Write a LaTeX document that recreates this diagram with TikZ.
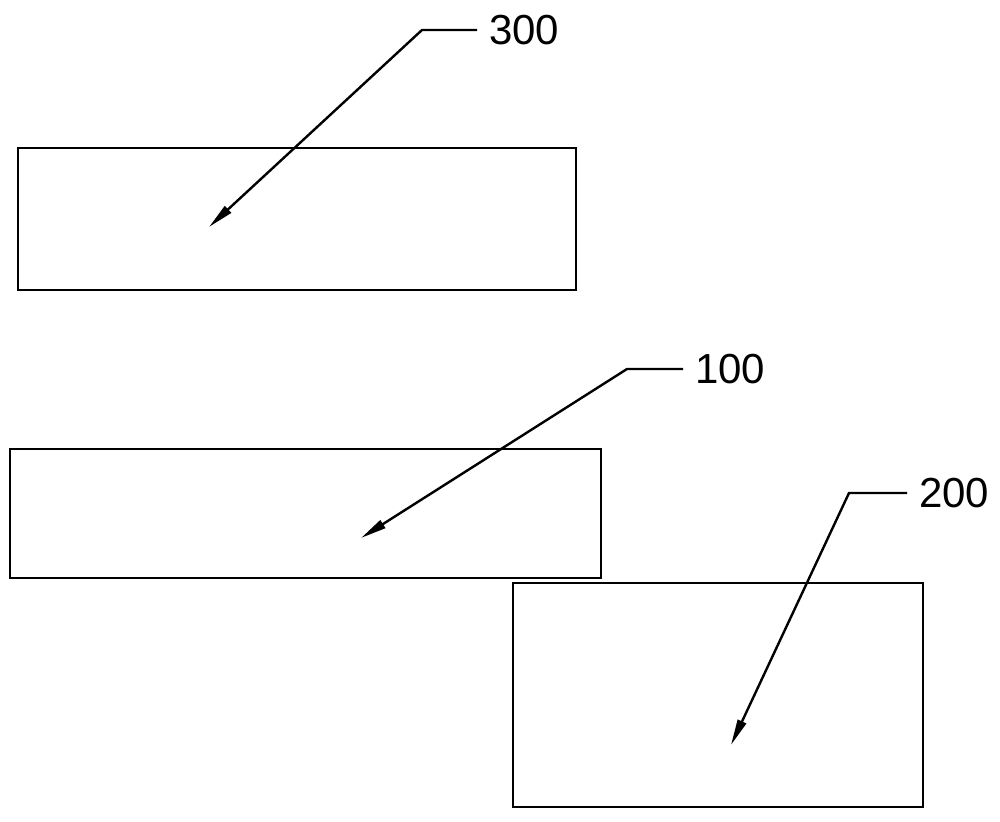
\documentclass[tikz,border=0pt]{standalone}
\usepackage{fontspec}
\setmainfont{Liberation Sans}
\usetikzlibrary{arrows.meta}
\begin{document}
\begin{tikzpicture}[x=1pt,y=-1pt,
  part/.style={draw=black, line width=2pt, inner sep=0pt, outer sep=0pt},
  num/.style={anchor=west, inner ysep=0pt, inner xsep=12pt, font=\fontsize{42}{42}\selectfont},
  leader/.style={draw=black, line width=2.4pt, line join=miter, -{Triangle[length=26pt,width=9pt]}}]
\useasboundingbox (0,0) rectangle (1000,821);
\node[part, minimum width=558pt, minimum height=142pt] (b300) at (297,219) {};
\node[part, minimum width=591pt, minimum height=129pt] (b100) at (305.5,513.5) {};
\node[part, minimum width=410pt, minimum height=224pt] (b200) at (718,695) {};
\node[num] (l300) at (477,30) {300};
\node[num] (l100) at (683,369) {100};
\node[num] (l200) at (907,493) {200};
\coordinate (k300) at (422,30);
\coordinate (k100) at (627,369);
\coordinate (k200) at (849,493);
\coordinate (t300) at (209,227);
\coordinate (t100) at (361,538);
\coordinate (t200) at (731,745);
\draw[leader] (l300.west) -- (l300.west -| k300) -- (t300);
\draw[leader] (l100.west) -- (l100.west -| k100) -- (t100);
\draw[leader] (l200.west) -- (l200.west -| k200) -- (t200);
\end{tikzpicture}
\end{document}
